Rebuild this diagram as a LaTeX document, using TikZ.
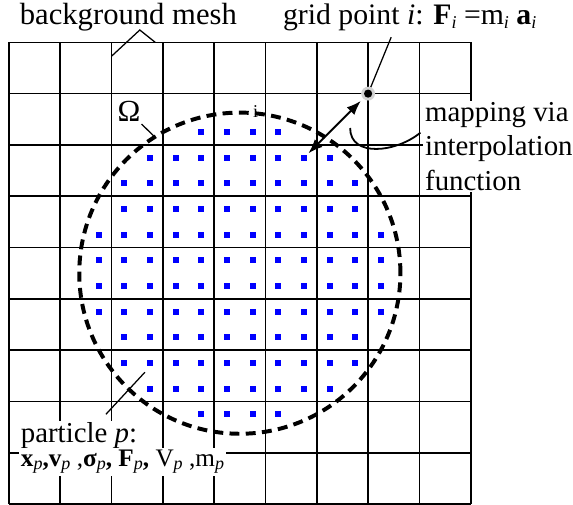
\documentclass[tikz,border=0pt]{standalone}
\usepackage{fontspec}
\setmainfont{Liberation Serif}
\usetikzlibrary{calc, positioning}
\usetikzlibrary{arrows.meta}

\newcommand\sub[1]{\raisebox{-0.3ex}{\fontsize{10}{10}\selectfont\textit{#1}}}

\tikzset{
  meshline/.style={line width=0.9pt},
  boundary/.style={line width=2.2pt, dash pattern=on 5.5pt off 3.5pt},
  mpoint/.style={fill=blue},
  leader/.style={line width=0.7pt},
  toplabel/.style={font=\fontsize{17}{20}\selectfont, inner sep=1pt},
  note/.style={fill=white, inner sep=1pt, align=left},
  maparrow/.style={{Latex[length=8pt,width=6pt]}-{Latex[length=8pt,width=6pt]}, line width=1.1pt,
    shorten <=0.12cm, shorten >=0.2cm},
}

\begin{document}
\begin{tikzpicture}
\def\ncell{9}
\def\rad{3.13}
\def\half{0.058}

\useasboundingbox (-0.175,0) rectangle (10.994,9.825);

\draw[meshline] (0,0) grid (\ncell,\ncell);

\foreach \i in {0,...,17}{
  \foreach \j in {0,...,17}{
    \pgfmathsetmacro{\px}{0.25+0.5*\i}
    \pgfmathsetmacro{\py}{0.25+0.5*\j}
    \pgfmathtruncatemacro{\inside}{(\px-4.5)*(\px-4.5)+(\py-4.5)*(\py-4.5)<8.6}
    \ifnum\inside=1
      \fill[mpoint] (\px-\half,\py-\half) rectangle (\px+\half,\py+\half);
    \fi
  }
}

\coordinate (C) at (4.5,4.5);
\draw[boundary] (C) circle (\rad);

\coordinate (G) at (7,8);
\coordinate (P) at (5.75,6.75);
\coordinate (gptip) at (7.45,9.1);
\draw[leader] (G) -- (gptip);
\fill[gray!35] (G) circle (0.135);
\fill[black] (G) circle (0.08);
\draw[maparrow] (P) -- (G);

\node[toplabel, anchor=base west] (mesh) at (0.17,9.34) {background mesh};
\coordinate (meshtip) at (2.55,9.24);
\coordinate (meshA) at (2,8.73);
\coordinate (meshB) at (2.85,9);
\draw[leader] (meshA) -- (meshtip) -- (meshB);

\node[toplabel, font=\fontsize{16.5}{20}\selectfont, anchor=base west] (gplabel) at (5.3,9.34)
  {grid point \textit{i}: \textbf{F}\sub{i} =m\sub{i} \textbf{a}\sub{i}};

\node[font=\fontsize{17}{20}\selectfont, inner sep=1pt, anchor=base] (omega) at (2.34,7.45) {Ω};
\coordinate (omegapt) at ($(C)+(122:\rad)$);
\draw[leader] (omega) -- (omegapt);

\node[font=\fontsize{10}{12}\selectfont, inner sep=0pt] (stray) at (4.81,7.66) {i};

\node[note, font=\fontsize{16}{19}\selectfont, anchor=north west] (map) at (8.07,7.87)
  {mapping via\\interpolation\\function};
\coordinate (curveA) at (8.02,7.24);
\coordinate (curveB) at (6.65,7.33);
\draw[line width=1pt] (curveA) .. controls (7.55,6.85) and (6.65,6.75) .. (curveB);

\node[note, font=\fontsize{16}{19}\selectfont, anchor=base west] (plabel) at (0.19,1.19) {particle \textit{p}:};
\node[note, font=\fontsize{14}{17}\selectfont, anchor=north west, yshift=2pt] (pvars) at (plabel.south west)
  {\textbf{x}\sub{p}\textbf{,}\textbf{v}\sub{p} ,\textbf{σ}\sub{p}\textbf{,} \textbf{F}\sub{p}\textbf{,} V\sub{p} ,m\sub{p}};
\coordinate (pA) at (1.89,1.75);
\coordinate (pB) at (2.65,2.57);
\draw[leader] (pA) -- (pB);
\end{tikzpicture}
\end{document}
